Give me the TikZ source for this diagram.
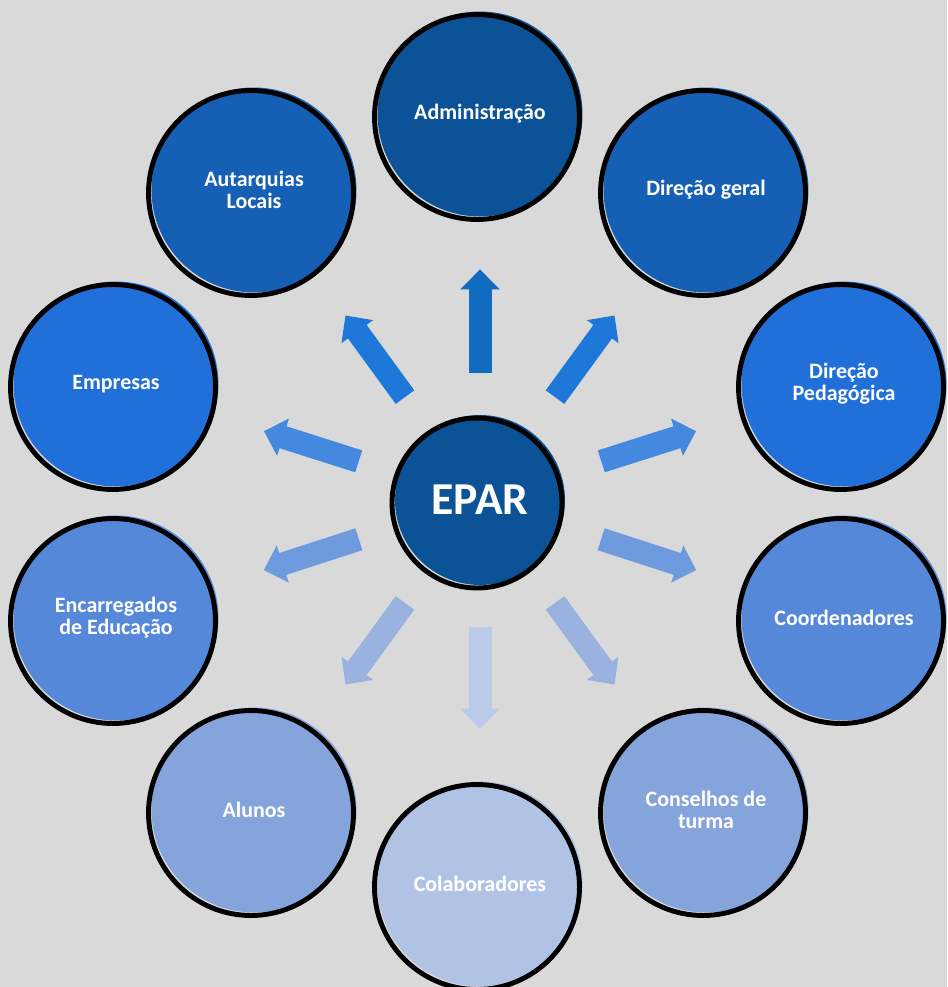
\documentclass[tikz,border=0pt]{standalone}
\usepackage{fontspec}
\setmainfont{Carlito}
\usetikzlibrary{arrows.meta}

\definecolor{bggray}{RGB}{217,217,217}
\definecolor{blueA}{RGB}{11,83,150}
\definecolor{blueB}{RGB}{21,96,180}
\definecolor{blueC}{RGB}{33,112,218}
\definecolor{blueD}{RGB}{85,136,216}
\definecolor{blueE}{RGB}{134,164,220}
\definecolor{blueF}{RGB}{177,195,229}
\definecolor{arrA}{RGB}{16,108,192}
\definecolor{arrB}{RGB}{30,120,218}
\definecolor{arrC}{RGB}{68,137,223}
\definecolor{arrD}{RGB}{110,155,222}
\definecolor{arrE}{RGB}{154,178,224}
\definecolor{arrF}{RGB}{188,202,233}

\tikzset{
  blob/.style={circle, minimum size=4.1cm, inner sep=0pt, align=center,
    text=white, font=\fontsize{12.5}{12.5}\selectfont\bfseries,
    postaction={draw=black, line width=2.8pt,
      transform canvas={shift={(-0.06cm,-0.06cm)}}}},
  hub/.style={blob, minimum size=3.4cm, font=\fontsize{26}{26}\selectfont\bfseries},
  spoke/.style={line width=0.46cm, -{Triangle[width=0.76cm,length=0.4cm]},
    shorten <=0.84cm, shorten >=1.05cm}
}

\begin{document}
\begin{tikzpicture}[x=0.02cm, y=-0.02cm]

    \fill[bggray] (0,0) rectangle (947,987);
    \useasboundingbox (0,0) rectangle (947,987);

    \node[hub, fill=blueA] at (480,500) (epar) {EPAR};

    \node[blob, fill=blueA] at (480,114) (admin) {Administração};
    \node[blob, fill=blueB] at (706,190) (geral) {Direção geral};
    \node[blob, fill=blueC] at (844,384) (pedag) {Direção\\Pedagógica};
    \node[blob, fill=blueD] at (844,618) (coord) {Coordenadores};
    \node[blob, fill=blueE] at (706,810) (turma) {Conselhos de\\turma};
    \node[blob, fill=blueF] at (480,884) (colab) {Colaboradores};
    \node[blob, fill=blueE] at (254,810) (alunos) {Alunos};
    \node[blob, fill=blueD] at (116,618) (encarr) {Encarregados\\de Educação};
    \node[blob, fill=blueC] at (116,384) (empresas) {Empresas};
    \node[blob, fill=blueB] at (254,190) (autarq) {Autarquias\\Locais};

    \draw[spoke, arrA] (epar) -- (admin);
    \draw[spoke, arrB] (epar) -- (geral);
    \draw[spoke, arrC] (epar) -- (pedag);
    \draw[spoke, arrD] (epar) -- (coord);
    \draw[spoke, arrE] (epar) -- (turma);
    \draw[spoke, arrF] (epar) -- (colab);
    \draw[spoke, arrE] (epar) -- (alunos);
    \draw[spoke, arrD] (epar) -- (encarr);
    \draw[spoke, arrC] (epar) -- (empresas);
    \draw[spoke, arrB] (epar) -- (autarq);

\end{tikzpicture}
\end{document}
